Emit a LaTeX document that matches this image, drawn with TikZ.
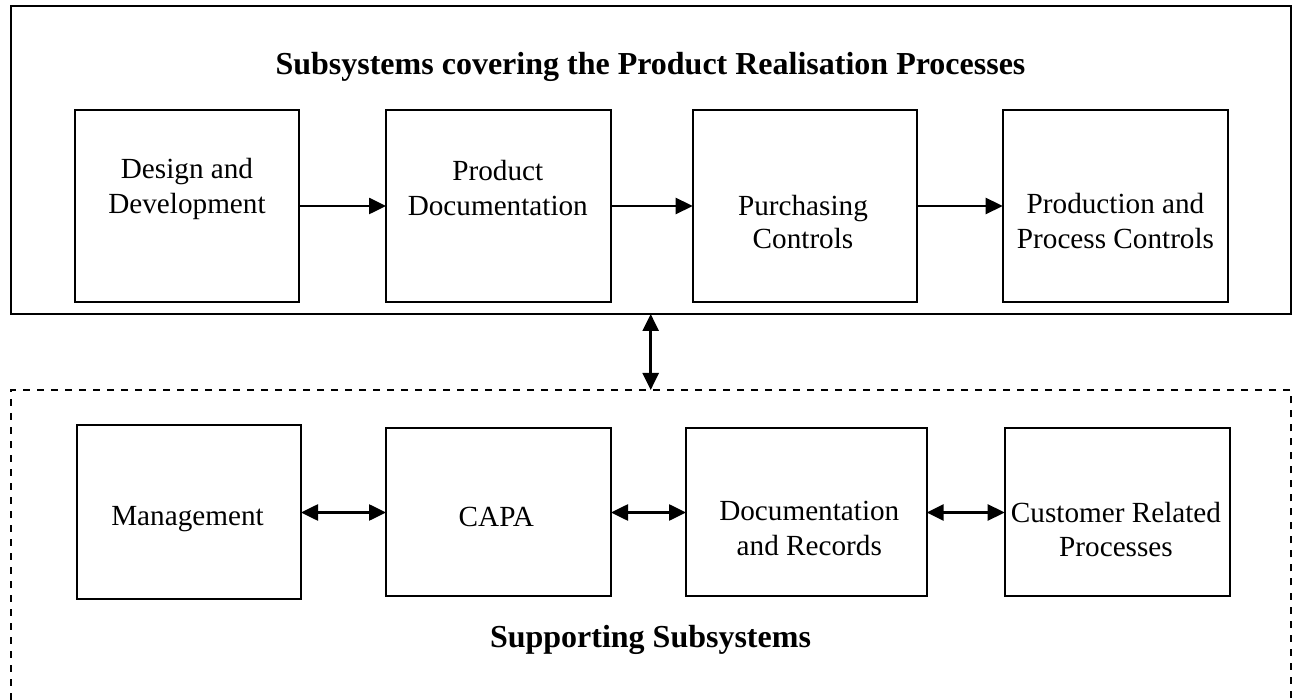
\documentclass[tikz,border=0pt]{standalone}
\usepackage{fontspec}
\setmainfont{Liberation Serif}
\usetikzlibrary{arrows.meta}
\begin{document}
\begin{tikzpicture}[x=0.5pt,y=-0.5pt,
  boxnode/.style={draw,line width=1pt,rectangle,inner sep=0pt,outer sep=0pt},
  lbl/.style={anchor=base,inner sep=0pt,font=\fontsize{14.6pt}{17pt}\selectfont},
  ttl/.style={anchor=base,inner sep=0pt,font=\fontsize{16pt}{19pt}\selectfont\bfseries},
  conn/.style={line width=1.3pt,-{Triangle[length=8.5pt,width=8pt]}},
  biconn/.style={line width=1.3pt,{Triangle[length=8.5pt,width=8pt]}-{Triangle[length=8.5pt,width=8pt]}}]
\useasboundingbox (0,0) rectangle (1292,700);
\clip (0,0) rectangle (1292,700);
% containers
\node[boxnode,minimum width=640.25pt,minimum height=154pt] (top) at (650.75,160) {};
\node[boxnode,dashed,dash pattern=on 3.5pt off 3.5pt,minimum width=639.75pt,minimum height=165pt] (bot) at (650.75,555) {};
% top row boxes
\node[boxnode,minimum width=112pt,minimum height=96pt] (dd) at (187,206) {};
\node[boxnode,minimum width=112.5pt,minimum height=96pt] (pd) at (498.5,206) {};
\node[boxnode,minimum width=112.3pt,minimum height=96pt] (pc) at (805,206) {};
\node[boxnode,minimum width=112.5pt,minimum height=96pt] (pp) at (1115.2,206) {};
% bottom row boxes
\node[boxnode,minimum width=112.2pt,minimum height=87pt] (mg) at (188.8,512) {};
\node[boxnode,minimum width=112.5pt,minimum height=83.8pt] (ca) at (498.5,512.2) {};
\node[boxnode,minimum width=120.3pt,minimum height=83.8pt] (dr) at (806.3,512.2) {};
\node[boxnode,minimum width=112.5pt,minimum height=84pt] (cr) at (1117.2,512) {};
% texts
\node[ttl] (ttop) at (650.5,75) {Subsystems covering the Product Realisation Processes};
\node[ttl] (tbot) at (650.5,647.5) {Supporting Subsystems};
\node[lbl] (dd1) at (187,179) {Design and};
\node[lbl] (dd2) at (187,214) {Development};
\node[lbl] (pd1) at (497.8,181) {Product};
\node[lbl] (pd2) at (497.8,216) {Documentation};
\node[lbl] (pc1) at (803,216) {Purchasing};
\node[lbl] (pc2) at (803,249) {Controls};
\node[lbl] (pp1) at (1115.5,214) {Production and};
\node[lbl] (pp2) at (1115.5,249) {Process Controls};
\node[lbl] (mg1) at (187.5,525) {Management};
\node[lbl] (ca1) at (496.3,526) {CAPA};
\node[lbl] (dr1) at (809.3,521) {Documentation};
\node[lbl] (dr2) at (809.3,555) {and Records};
\node[lbl] (cr1) at (1116,522.5) {Customer Related};
\node[lbl] (cr2) at (1116,557) {Processes};
% connectors
\draw[conn] (dd.east) -- (pd.west);
\draw[conn] (pd.east) -- (pc.west);
\draw[conn] (pc.east) -- (pp.west);
\draw[biconn] (mg.east |- 0,512.5) -- (ca.west |- 0,512.5);
\draw[biconn] (ca.east |- 0,512.5) -- (dr.west |- 0,512.5);
\draw[biconn] (dr.east |- 0,512.5) -- (cr.west |- 0,512.5);
\draw[biconn] (top.south -| 650.7,0) -- (bot.north -| 650.7,0);
\end{tikzpicture}
\end{document}
